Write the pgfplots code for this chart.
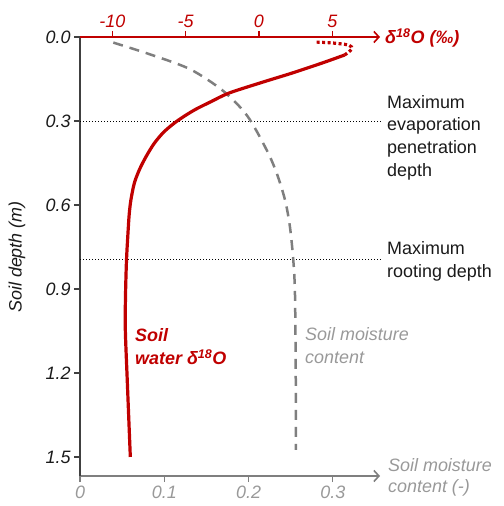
\documentclass[border=0pt]{standalone}
\usepackage{fontspec}
\setmainfont{Liberation Sans}
\usepackage{pgfplots}
\pgfplotsset{compat=1.18}
\usetikzlibrary{arrows.meta}
\definecolor{dred}{HTML}{C00000}
\definecolor{dgray}{HTML}{7F7F7F}
\definecolor{lgray}{HTML}{999999}
\definecolor{axgray}{HTML}{404040}
\definecolor{txt}{HTML}{1A1A1A}
\definecolor{grid}{HTML}{A8A8A8}
\newcommand{\fs}{\fontsize{18}{22.7}\selectfont}
\begin{document}
\begin{tikzpicture}[x=1bp,y=1bp]
\pgfplotsset{every axis/.append style={font=\fs}}
\begin{axis}[
  at={(80bp,30bp)}, anchor=south west, scale only axis,
  width=300bp, height=439bp,
  xmin=0, xmax=0.3559, ymin=0, ymax=1.568, y dir=reverse,
  axis x line*=bottom, axis y line*=left,
  clip=false,
  x axis line style={dgray, line width=1.6bp, -{Straight Barb[length=5bp,width=11bp,line width=1.6bp]}},
  y axis line style={axgray, line width=1.8bp, -},
  /pgf/number format/assume math mode=true,
  ytick={0,0.3,0.6,0.9,1.2,1.5}, yticklabels={0.0,0.3,0.6,0.9,1.2,1.5},
  xtick={0,0.1,0.2,0.3}, xticklabels={0,0.1,0.2,0.3},
  tick align=outside, major tick length=6bp,
  x tick style={dgray, line width=1.2bp},
  y tick style={axgray, line width=1.5bp},
  xticklabel style={text=lgray, font=\fs\itshape},
  yticklabel style={text=txt, font=\fs\itshape},
]
\addplot[grid, line width=0.8bp, dash pattern=on 1bp off 2bp] coordinates {(0,0.3) (0.358,0.3)};
\addplot[grid, line width=0.8bp, dash pattern=on 1bp off 2bp] coordinates {(0,0.796) (0.358,0.796)};
\addplot[dgray, line width=2.5bp, dash pattern=on 10bp off 7bp, smooth] coordinates {
(0.0395,0.020) (0.083,0.062) (0.1305,0.115) (0.170,0.193) (0.1985,0.282)
(0.2215,0.404) (0.2333,0.486) (0.2432,0.582) (0.249,0.677) (0.253,0.796)
(0.255,0.914) (0.2559,1.19) (0.256,1.475)};
\end{axis}
\begin{axis}[
  at={(80bp,30bp)}, anchor=south west, scale only axis,
  width=300bp, height=439bp,
  xmin=-12.20, xmax=8.25, ymin=0, ymax=1.568, y dir=reverse,
  axis x line*=top, axis y line=none,
  clip=false,
  x axis line style={dred, line width=1.6bp, -{Straight Barb[length=5bp,width=11bp,line width=1.6bp]}},
  /pgf/number format/assume math mode=true,
  xtick={-10,-5,0,5}, xticklabels={-10,-5,0,5},
  tick align=outside, major tick length=6bp,
  x tick style={dred, line width=1.2bp},
  xticklabel style={text=dred, font=\fs\itshape},
]
\addplot[dred, line width=3.2bp, smooth] coordinates {
(-8.77,1.50) (-8.98,1.225) (-9.11,1.0464) (-9.10,0.9286) (-9.03,0.7964)
(-8.91,0.683) (-8.84,0.630) (-8.73,0.582) (-8.50,0.5225) (-8.16,0.475)
(-7.70,0.4275) (-7.14,0.380) (-6.46,0.338) (-5.55,0.299) (-4.41,0.261)
(-3.27,0.231) (-2.03,0.2) (0.29,0.1607) (2.27,0.1286) (4.31,0.0929) (5.84,0.0643)};
\addplot[dred, line width=3.2bp, dash pattern=on 3bp off 2.5bp, smooth] coordinates {
(5.84,0.0643) (6.32,0.043) (6.12,0.029) (4.93,0.021) (3.77,0.018)};
\end{axis}
\node[anchor=north west, inner sep=0, align=left, font=\fs, text=txt] at (387,411)
  {Maximum\\evaporation\\penetration\\depth};
\node[anchor=north west, inner sep=0, align=left, font=\fs, text=txt] at (387,264.5)
  {Maximum\\rooting depth};
\node[anchor=north west, inner sep=0, align=left, font=\fs\itshape, text=lgray] at (305,178.5)
  {Soil moisture\\content};
\node[anchor=north west, inner sep=0, align=left, font=\fs\bfseries\itshape, text=dred] at (135,177.5)
  {Soil\\water δ\textsuperscript{18}O};
\node[anchor=west, inner sep=0, font=\fs\bfseries\itshape, text=dred] at (385,468)
  {δ\textsuperscript{18}O (‰)};
\node[anchor=north west, inner sep=0, align=left, font=\fontsize{18}{21}\selectfont\itshape, text=lgray] at (388,47.5)
  {Soil moisture\\content (-)};
\node[rotate=90, inner sep=0, font=\fs\itshape, text=txt] at (17,249) {Soil depth (m)};
\pgfresetboundingbox
\path[use as bounding box] (0,0) rectangle (504,506);
\end{tikzpicture}
\end{document}
